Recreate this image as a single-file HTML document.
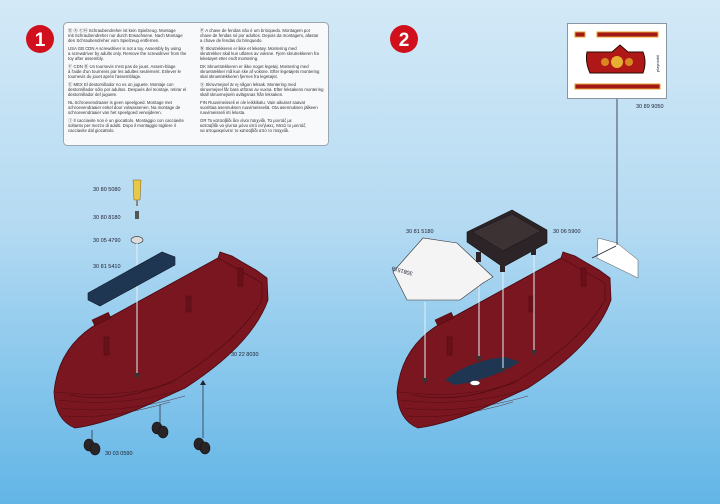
<!DOCTYPE html>
<html><head><meta charset="utf-8"><style>
html,body{margin:0;padding:0;}
body{width:720px;height:504px;overflow:hidden;background:linear-gradient(#d3e9f7 0%,#b4daf2 45%,#86c6ec 75%,#62b5e6 100%);font-family:"Liberation Sans",sans-serif;}
svg{display:block}
</style></head><body>
<svg width="720" height="504" viewBox="0 0 720 504" xmlns="http://www.w3.org/2000/svg" font-family="Liberation Sans, sans-serif">
<defs>
<g id="hull">
  <path d="M92,327 L218,258 L220,252 L232,256 L242,262 L256,270 L267,278 L268,300 Q252,345 185,388 L150,404 Q105,424 75,428 Q55,420 54,392 Q58,350 92,327 Z" fill="#7a1620" stroke="#4a0a10" stroke-width="0.8"/>
  <path d="M92,327 L218,258 L262,283 L262,300 Q240,340 175,380 Q120,405 70,395" fill="none" stroke="#4a0a10" stroke-width="0.6"/>
  <path d="M56,392 Q120,400 175,382 M58,400 Q120,408 180,390 M60,408 Q120,415 185,396 M64,416 Q110,420 170,402" fill="none" stroke="#4a0a10" stroke-width="0.4"/>
  <rect x="104" y="337" width="5" height="18" fill="#6a1018" stroke="#4a0a10" stroke-width="0.5"/>
  <rect x="186" y="296" width="5" height="16" fill="#6a1018" stroke="#4a0a10" stroke-width="0.5"/>
  <rect x="238" y="268" width="5" height="18" fill="#6a1018" stroke="#4a0a10" stroke-width="0.5"/>
  <rect x="92" y="320" width="18" height="6" fill="#6a1018" stroke="#4a0a10" stroke-width="0.5" transform="rotate(-25 92 320)"/>
</g>
<g id="wheel"><ellipse cx="-3" cy="-2" rx="5" ry="6" fill="#2a2426" stroke="#111" stroke-width="0.6"/><ellipse cx="3" cy="2" rx="5" ry="6" fill="#2a2426" stroke="#111" stroke-width="0.6"/></g>
</defs>

<circle cx="40" cy="39" r="14" fill="#d0101c"/>
<text x="40" y="46" font-size="19" font-weight="bold" fill="#fff" text-anchor="middle">1</text>
<circle cx="404" cy="39" r="14" fill="#d0101c"/>
<text x="404" y="46" font-size="19" font-weight="bold" fill="#fff" text-anchor="middle">2</text>

<rect x="63.5" y="22.5" width="265" height="123" rx="4" fill="#f7f9fb" stroke="#9aa6b2" stroke-width="1"/>
<g font-size="4.3" fill="#333">
<text x="68" y="32">Ⓓ Ⓐ ⒸⒽ Schraubendreher ist kein Spielzeug. Montage</text>
<text x="68" y="37">mit Schraubendreher nur durch Erwachsene. Nach Montage</text>
<text x="68" y="42">den Schraubendreher vom Spielzeug entfernen.</text>
<text x="68" y="50">USA GB CDN A screwdriver is not a toy. Assembly by using</text>
<text x="68" y="55">a screwdriver by adults only. Remove the screwdriver from the</text>
<text x="68" y="60">toy after assembly.</text>
<text x="68" y="68">Ⓕ CDN Ⓑ Un tournevis n'est pas de jouet. Assem-blage</text>
<text x="68" y="73">à l'aide d'un tournevis par les adultes seulement. Enlever le</text>
<text x="68" y="78">tournevis du jouet après l'assemblage.</text>
<text x="68" y="86">Ⓔ MEX El destornillador no es un juguete. Montaje con</text>
<text x="68" y="91">destornillador sólo por adultos. Después del montaje, retirar el</text>
<text x="68" y="96">destornillador del juguete.</text>
<text x="68" y="104">NL Schroevendraaier is geen speelgoed. Montage met</text>
<text x="68" y="109">schroevendraaier enkel door volwassenen. Na montage de</text>
<text x="68" y="114">schroevendraaier van het speelgoed verwijderen.</text>
<text x="68" y="122">Ⓘ Il cacciavite non è un giocattolo. Montaggio con cacciavite</text>
<text x="68" y="127">soltanto per mezzo di adulti. Dopo il montaggio togliere il</text>
<text x="68" y="132">cacciavite dal giocattolo.</text>
<text x="200" y="32">Ⓟ A chave de fendas não é um brinquedo. Montagem por</text>
<text x="200" y="37">chave de fendas só por adultos. Depois da montagem, afastar</text>
<text x="200" y="42">a chave de fendas do brinquedo.</text>
<text x="200" y="50">Ⓝ Skrutrekkeren er ikke et leketøy. Montering med</text>
<text x="200" y="55">skrutrekker skal kun utføres av voksne. Fjern skrutrekkeren fra</text>
<text x="200" y="60">leketøyet etter endt montering.</text>
<text x="200" y="68">DK Skruetrækkeren er ikke noget legetøj. Montering med</text>
<text x="200" y="73">skruetrækker må kun ske af voksne. Efter legetøjets montering</text>
<text x="200" y="78">skal skruetrækkeren fjernes fra legetøjet.</text>
<text x="200" y="86">Ⓢ Skruvmejsel är ej någon leksak. Montering med</text>
<text x="200" y="91">skruvmejsel får bara utföras av vuxna. Efter leksakens montering</text>
<text x="200" y="96">skall skruvmejseln avlägsnas från leksaken.</text>
<text x="200" y="104">FIN Ruuvimeisseli ei ole leikkikalu. Vain aikuiset saavat</text>
<text x="200" y="109">suorittaa asennuksen ruuvimeisseliä. Ota asennuksen jälkeen</text>
<text x="200" y="114">ruuvimeisseli irti lelusta.</text>
<text x="200" y="122">GR Το κατσαβίδι δεν είναι παιχνίδι. Τα μοντάζ με</text>
<text x="200" y="127">κατσαβίδι να γίνεται μόνο από ενήλικες. Μετά το μοντάζ</text>
<text x="200" y="132">να απομακρύνετε το κατσαβίδι από το παιχνίδι.</text>
</g>

<use href="#hull"/>
<g font-size="5.5" fill="#223">
<text x="93" y="191">30 80 5080</text>
<text x="93" y="219">30 80 8180</text>
<text x="93" y="242">30 05 4790</text>
<text x="93" y="268">30 81 5410</text>
<text x="231" y="356">30 22 8030</text>
<text x="105" y="455">30 03 0590</text>
</g>
<path d="M133,180 L141,180 L140,200 L134,200 Z" fill="#e8c84a" stroke="#806010" stroke-width="0.5"/>
<rect x="136" y="200" width="2" height="6" fill="#888"/>
<rect x="135" y="211" width="4" height="8" fill="#555"/>
<ellipse cx="137" cy="240" rx="6" ry="3.5" fill="#ddd" stroke="#444" stroke-width="0.7"/>
<line x1="137" y1="243" x2="137" y2="375" stroke="#e6eef4" stroke-width="1"/>
<path d="M134,373 L137,379 L140,373 Z" fill="#333"/>
<path d="M88,293 L162,252 L175,257 L175,265 L100,306 L88,300 Z" fill="#1f3652" stroke="#0e1a2a" stroke-width="0.6"/>
<line x1="92" y1="440" x2="92" y2="430" stroke="#334" stroke-width="0.8"/>
<line x1="160" y1="424" x2="160" y2="405" stroke="#334" stroke-width="0.8"/>
<line x1="203" y1="438" x2="203" y2="382" stroke="#334" stroke-width="0.8"/>
<path d="M200,385 L203,380 L206,385 Z" fill="#223"/>
<use href="#wheel" x="92" y="447"/>
<use href="#wheel" x="160" y="430"/>
<use href="#wheel" x="202" y="446"/>

<use href="#hull" x="343"/>
<path d="M445,380 Q470,360 505,357 L520,362 Q490,380 455,385 Z" fill="#1f3652"/>
<ellipse cx="475" cy="383" rx="5" ry="2.5" fill="#fff" stroke="#333" stroke-width="0.5"/>
<g font-size="5.5" fill="#223">
<text x="406" y="233">30 81 5180</text>
<text x="553" y="233">30 06 5900</text>
<text x="636" y="108">30 89 9050</text>
</g>
<line x1="425" y1="302" x2="425" y2="380" stroke="#e6eef4" stroke-width="1"/>
<path d="M422,378 L425,384 L428,378 Z" fill="#333"/>
<line x1="479" y1="265" x2="479" y2="358" stroke="#e6eef4" stroke-width="1"/>
<path d="M476,356 L479,362 L482,356 Z" fill="#333"/>
<line x1="503" y1="270" x2="503" y2="370" stroke="#e6eef4" stroke-width="1"/>
<path d="M500,368 L503,374 L506,368 Z" fill="#333"/>
<line x1="534" y1="255" x2="534" y2="352" stroke="#e6eef4" stroke-width="1"/>
<path d="M531,350 L534,356 L537,350 Z" fill="#333"/>
<path d="M393,272 L423,238 L457,243 L493,277 L483,283 L460,300 L407,300 Z" fill="#f4f4f4" stroke="#333" stroke-width="0.6"/>
<text x="0" y="0" font-size="5.5" fill="#223" transform="translate(413,272) rotate(195)">3081518</text>
<path d="M467,232 L512,210 L547,230 L547,243 L503,267 L467,242 Z" fill="#2c2426" stroke="#111" stroke-width="0.6"/>
<path d="M472,232 L512,214 L541,231 L503,251 Z" fill="#3c3234" stroke="#111" stroke-width="0.5"/>
<rect x="476" y="252" width="5" height="10" fill="#2c2426"/>
<rect x="500" y="262" width="5" height="10" fill="#2c2426"/>
<rect x="531" y="245" width="5" height="10" fill="#2c2426"/>
<path d="M598,238 L617,243 L638,260 L638,278 L597,258 Z" fill="#fff" stroke="#555" stroke-width="0.5"/>
<line x1="617" y1="99" x2="617" y2="245" stroke="#223" stroke-width="0.8"/>
<line x1="616" y1="246" x2="592" y2="258" stroke="#223" stroke-width="0.8"/>
<rect x="567.5" y="23.5" width="99" height="75" fill="#fff" stroke="#8a96a2"/>
<rect x="575" y="32" width="10" height="5" fill="#a01818" stroke="#e8a030"/>
<rect x="597" y="32" width="61" height="5" fill="#a01818" stroke="#e8a030"/>
<path d="M587,52 L612,52 L620,45 L628,52 L643,52 Q647,62 643,73 L590,73 Q585,62 587,52 Z" fill="#b01818" stroke="#2a0a00" stroke-width="1"/>
<circle cx="617" cy="62" r="6" fill="#e8b030"/>
<circle cx="605" cy="62" r="4" fill="#d88820"/>
<circle cx="629" cy="62" r="4" fill="#d88820"/>
<rect x="575" y="84" width="85" height="5" fill="#a01818" stroke="#e8a030"/>
<text x="0" y="0" font-size="4" fill="#123" transform="translate(659,72) rotate(-90)">playmobil</text>
</svg>
</body></html>
